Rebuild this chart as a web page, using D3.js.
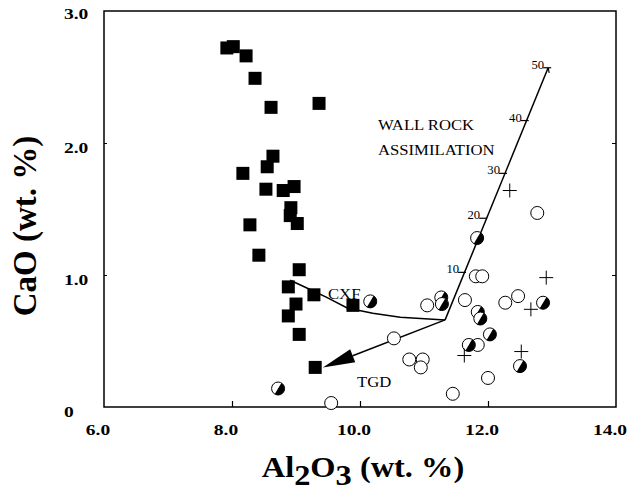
<!DOCTYPE html>
<html>
<head>
<meta charset="utf-8">
<script src="https://cdn.jsdelivr.net/npm/d3@7"></script>
<style>
  html, body { margin: 0; padding: 0; background: #fff; }
  svg { display: block; }
  text { font-family: "Liberation Serif", "Times New Roman", serif; fill: #000; }
</style>
</head>
<body>
<svg id="chart" width="629" height="491"></svg>
<script>
// Axis ticks and labels
const xTicks = [6, 8, 10, 12, 14];
const xTickLabels = ["6.0", "8.0", "10.0", "12.0", "14.0"];
const yTicks = [0, 1, 2, 3];
const yTickLabels = ["0", "1.0", "2.0", "3.0"];

// Samples: [Al2O3, CaO] wt. %
const squareSamples = [
  [7.92, 2.72], [8.02, 2.73], [8.22, 2.66], [8.36, 2.49], [8.61, 2.27], [9.36, 2.30],
  [8.64, 1.90], [8.17, 1.77], [8.55, 1.82], [8.53, 1.65], [8.80, 1.64], [8.97, 1.67],
  [8.92, 1.51], [8.91, 1.45], [9.02, 1.39], [8.28, 1.38], [8.42, 1.15], [9.05, 1.04],
  [8.88, 0.91], [9.28, 0.85], [9.00, 0.78], [8.88, 0.69], [9.89, 0.77], [9.05, 0.55],
  [9.30, 0.30]
];
const openCircleSamples = [
  [11.81, 0.99], [11.91, 0.99], [11.05, 0.77], [11.64, 0.81], [12.27, 0.79], [12.47, 0.84],
  [11.84, 0.47], [10.77, 0.36], [10.98, 0.36], [10.95, 0.30], [12.00, 0.22], [11.45, 0.10],
  [10.53, 0.52], [9.55, 0.03], [12.77, 1.47]
];
const halfCircleSamples = [
  [11.83, 1.28], [11.27, 0.83], [11.28, 0.78], [11.84, 0.72], [11.88, 0.67], [11.70, 0.47],
  [12.03, 0.55], [12.86, 0.79], [12.50, 0.31], [10.16, 0.80], [8.72, 0.14]
];
const crossSamples = [
  [12.34, 1.64], [12.91, 0.98], [12.67, 0.74], [12.52, 0.42], [11.63, 0.39]
];

// CXF fractionation trend
const cxfTrend = [
  [8.91, 0.96], [9.22, 0.89], [9.48, 0.83], [9.80, 0.75], [10.20, 0.71], [10.63, 0.68], [11.33, 0.66]
];
// Wall-rock assimilation vector with % marks
const assimStart = [11.33, 0.66];
const assimPct = [10, 20, 30, 40, 50];
const assimAl = [11.61, 11.94, 12.25, 12.59, 12.94];
const assimCa = [1.02, 1.43, 1.77, 2.17, 2.57];
// TGD vector
const tgdStart = [11.33, 0.66];
const tgdEnd = [9.42, 0.30];

const svg = d3.select("#chart");
const x = d3.scaleLinear().domain([6, 14]).range([104, 616]);
const y = d3.scaleLinear().domain([0, 3]).range([407, 11]);

// frame
svg.append("rect")
  .attr("x", x(6)).attr("y", y(3))
  .attr("width", x(14) - x(6)).attr("height", y(0) - y(3))
  .attr("fill", "none").attr("stroke", "#000").attr("stroke-width", 1.5);

// inner ticks
const bottomAxis = d3.axisBottom(x).tickValues(xTicks.slice(1, -1)).tickSize(-6).tickFormat("");
svg.append("g").attr("transform", `translate(0,${y(0)})`).call(bottomAxis)
  .call(g => g.select(".domain").remove())
  .call(g => g.selectAll("line").attr("stroke-width", 1.2));
const leftAxis = d3.axisLeft(y).tickValues(yTicks.slice(1, -1)).tickSize(-3).tickFormat("");
svg.append("g").attr("transform", `translate(${x(6)},0)`).call(leftAxis)
  .call(g => g.select(".domain").remove());
const rightAxis = d3.axisRight(y).tickValues(yTicks.slice(1, -1)).tickSize(-4).tickFormat("");
svg.append("g").attr("transform", `translate(${x(14)},0)`).call(rightAxis)
  .call(g => g.select(".domain").remove());

// horizontally stretched text helper
function label(g, px, py, str, opts) {
  return g.append("text")
    .attr("transform", `translate(${px},${py}) scale(${opts.sx || 1},1)`)
    .attr("font-size", opts.size)
    .attr("font-weight", opts.weight || "normal")
    .attr("text-anchor", opts.anchor || "start")
    .text(str);
}

// tick labels
xTicks.forEach((v, i) => {
  label(svg, x(v) - 6, y(0) + 28, xTickLabels[i], { size: 15, weight: "bold", anchor: "middle", sx: 1.3 });
});
yTicks.forEach((v, i) => {
  label(svg, 64, y(v) + (v === 3 ? 8 : 10), yTickLabels[i], { size: 15, weight: "bold", anchor: "start", sx: 1.3 });
});

// axis titles
svg.append("text")
  .attr("transform", `translate(36,226) rotate(-90)`)
  .attr("font-size", 33).attr("font-weight", "bold").attr("text-anchor", "middle")
  .text("CaO (wt. %)");

const xt = svg.append("text")
  .attr("transform", `translate(363,477) scale(1.08,1)`)
  .attr("font-size", 30).attr("font-weight", "bold").attr("text-anchor", "middle");
xt.append("tspan").text("Al");
xt.append("tspan").attr("dy", 8).text("2");
xt.append("tspan").attr("dy", -8).text("O");
xt.append("tspan").attr("dy", 8).text("3");
xt.append("tspan").attr("dy", -8).text("\u00a0(wt. %)");

// trend lines
const line = d3.line().x(d => x(d[0])).y(d => y(d[1]));
svg.append("path").attr("d", line(cxfTrend))
  .attr("fill", "none").attr("stroke", "#000").attr("stroke-width", 1.5);

const assimEnd = [assimAl[assimAl.length - 1], assimCa[assimCa.length - 1]];
svg.append("path").attr("d", line([assimStart, assimEnd]))
  .attr("fill", "none").attr("stroke", "#000").attr("stroke-width", 1.5);

// assimilation % marks
assimPct.forEach((p, i) => {
  const px = x(assimAl[i]), py = y(assimCa[i]);
  svg.append("line")
    .attr("x1", px - 5).attr("x2", px + 3).attr("y1", py).attr("y2", py)
    .attr("stroke", "#000").attr("stroke-width", 1.2);
  if (i === assimPct.length - 1) {
    svg.append("line")
      .attr("x1", px).attr("x2", px + 1).attr("y1", py).attr("y2", py + 5)
      .attr("stroke", "#000").attr("stroke-width", 1.2);
  }
  label(svg, px - 4, py + 1, String(p), { size: 11.5, anchor: "end", sx: 1.1 });
});

// TGD arrow
const tx0 = x(tgdStart[0]), ty0 = y(tgdStart[1]);
const tx1 = x(tgdEnd[0]), ty1 = y(tgdEnd[1]);
const ta = Math.atan2(ty1 - ty0, tx1 - tx0);
const headLen = 32, headHalf = 7;
const bx = tx1 - headLen * Math.cos(ta), by = ty1 - headLen * Math.sin(ta);
svg.append("line").attr("x1", tx0).attr("y1", ty0).attr("x2", bx).attr("y2", by)
  .attr("stroke", "#000").attr("stroke-width", 1.5);
svg.append("path")
  .attr("d", `M${tx1},${ty1} L${bx - headHalf * Math.sin(ta)},${by + headHalf * Math.cos(ta)} L${bx + headHalf * Math.sin(ta)},${by - headHalf * Math.cos(ta)} Z`)
  .attr("fill", "#000");

// annotations
label(svg, 378, 130, "WALL ROCK", { size: 14.5, sx: 1.15 });
label(svg, 378, 155, "ASSIMILATION", { size: 14.5, sx: 1.15 });
label(svg, 328, 299, "CXF", { size: 14.5, sx: 1.15 });
label(svg, 357, 387, "TGD", { size: 14.5, sx: 1.15 });

// markers
const sq = 13;
svg.append("g").selectAll("rect").data(squareSamples).join("rect")
  .attr("x", d => x(d[0]) - sq / 2).attr("y", d => y(d[1]) - sq / 2)
  .attr("width", sq).attr("height", sq).attr("fill", "#000");

const r = 6.5;
svg.append("g").selectAll("circle").data(openCircleSamples).join("circle")
  .attr("cx", d => x(d[0])).attr("cy", d => y(d[1])).attr("r", r)
  .attr("fill", "#fff").attr("stroke", "#000").attr("stroke-width", 1);

const halfArc = d3.arc().innerRadius(0).outerRadius(r)
  .startAngle(Math.PI * 0.17).endAngle(Math.PI * 1.17);
const hg = svg.append("g").selectAll("g").data(halfCircleSamples).join("g")
  .attr("transform", d => `translate(${x(d[0])},${y(d[1])})`);
hg.append("circle").attr("r", r).attr("fill", "#fff").attr("stroke", "#000").attr("stroke-width", 1);
hg.append("path").attr("d", halfArc).attr("fill", "#000");

const cs = 7;
const cg = svg.append("g").selectAll("g").data(crossSamples).join("g")
  .attr("transform", d => `translate(${x(d[0])},${y(d[1])})`);
cg.append("line").attr("x1", -cs).attr("x2", cs).attr("stroke", "#000").attr("stroke-width", 1);
cg.append("line").attr("y1", -cs).attr("y2", cs).attr("stroke", "#000").attr("stroke-width", 1);
</script>
</body>
</html>
